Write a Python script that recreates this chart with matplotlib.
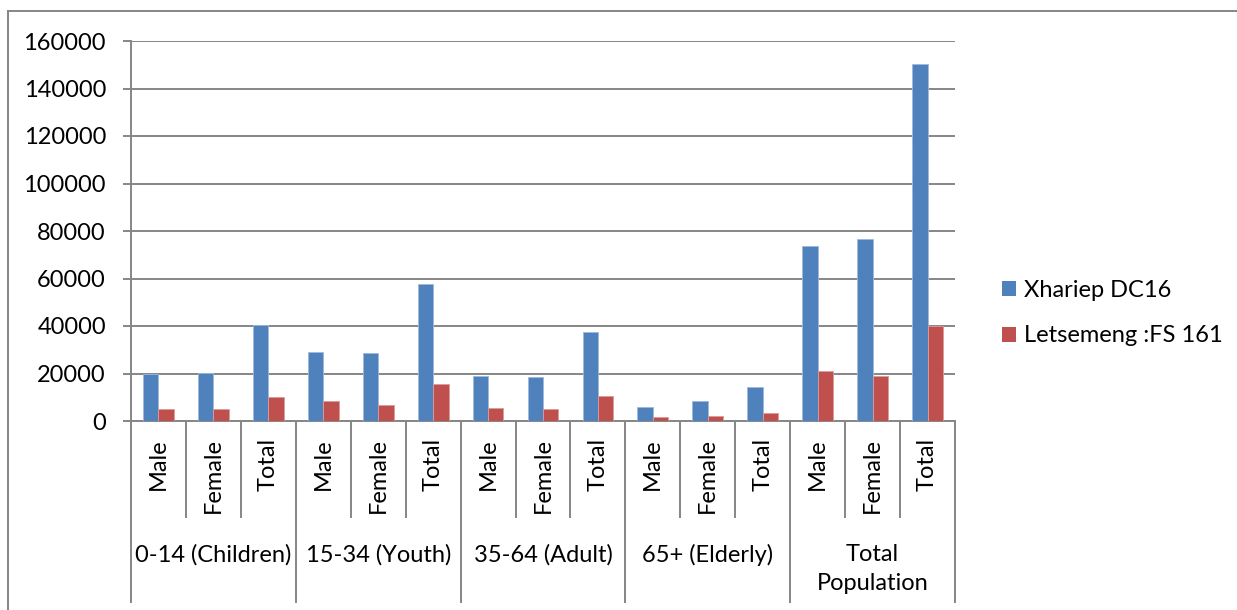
import numpy as np
import matplotlib
matplotlib.use("Agg")
import matplotlib.pyplot as plt
from matplotlib.patches import Patch
from matplotlib.lines import Line2D

plt.rcParams['font.family'] = ['Lato', 'DejaVu Sans']

groups = ['0-14 (Children)', '15-34 (Youth)', '35-64 (Adult)', '65+ (Elderly)', 'Total\nPopulation']
sexes = ['Male', 'Female', 'Total']
xhariep = [20000, 20400, 40500,
           28900, 28700, 57800,
           18900, 18600, 37600,
           5800, 8600, 14500,
           73800, 76700, 150500]
letsemeng = [4900, 4900, 9900,
             8600, 6900, 15700,
             5600, 4900, 10500,
             1600, 1900, 3500,
             20900, 18800, 40000]
series_names = ['Xhariep DC16', 'Letsemeng :FS 161']
colors = ['#4F81BD', '#C0504D']
grey = '#868686'
fs = 17

fig = plt.figure(figsize=(12.37, 6.10), dpi=100)
ax = fig.add_axes([131/1237, 1-421/610, 824/1237, 380/610])

n = len(xhariep)
x = np.arange(n) + 0.5
w = 0.28
ax.bar(x - w/2, xhariep, w, color=colors[0], edgecolor='#9DB9DC', linewidth=0.6, zorder=3)
ax.bar(x + w/2, letsemeng, w, color=colors[1], edgecolor='#DB9C9A', linewidth=0.6, zorder=3)

ax.set_xlim(0, n)
ax.set_ylim(0, 160000)
ax.set_yticks(np.arange(0, 160001, 20000))
ax.yaxis.grid(True, color=grey, linewidth=1.4, zorder=0)
ax.tick_params(axis='y', direction='out', length=6, width=1.4, color=grey,
               pad=12, labelsize=fs)
for sp in ['top', 'right']:
    ax.spines[sp].set_visible(False)
for sp in ['left', 'bottom']:
    ax.spines[sp].set_color(grey)
    ax.spines[sp].set_linewidth(1.4)

# category boundaries as ticks
ax.set_xticks(np.arange(0, n + 1, 3))
ax.set_xticks(np.arange(0, n + 1, 1), minor=True)
ax.tick_params(axis='x', which='major', direction='out', length=131, width=1.4,
               color=grey, labelbottom=False)
ax.tick_params(axis='x', which='minor', direction='out', length=70, width=1.4,
               color=grey, labelbottom=False)

trans = ax.get_xaxis_transform()
for i in range(n):
    ax.text(x[i], -0.045, sexes[i % 3], rotation=90, ha='center', va='top',
            fontsize=fs, transform=trans)
for g, name in enumerate(groups):
    ax.text(3 * g + 1.5, -0.323, name, ha='center', va='top', fontsize=fs,
            linespacing=1.5, transform=trans)

handles = [Patch(facecolor=c, edgecolor='none') for c in colors]
fig.legend(handles, series_names, loc='center left',
           bbox_to_anchor=(981/1237, 1-313/610), frameon=False, fontsize=fs,
           handlelength=0.6, handleheight=0.6, handletextpad=0.3,
           labelspacing=1.05)

# outer chart frame
fig.add_artist(Line2D([8/1237, 8/1237], [0, 1-11/610], color=grey, lw=1.4))
fig.add_artist(Line2D([8/1237, 1], [1-11/610, 1-11/610], color=grey, lw=1.4))

fig.savefig('out.png', dpi=100)
